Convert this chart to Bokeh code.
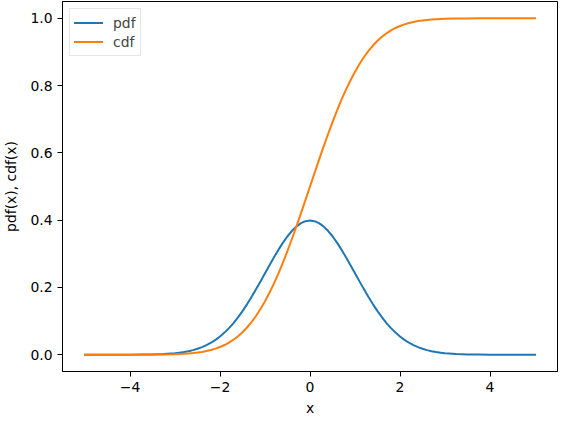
from bokeh.plotting import figure
from bokeh.models import ColumnDataSource, Range1d, FixedTicker, Legend, LegendItem
from bokeh.embed import file_html
from bokeh.resources import INLINE

# values
x_vals = [-5.0, -4.75, -4.5, -4.25, -4.0, -3.75, -3.5, -3.25,
          -3.0, -2.9, -2.8, -2.7, -2.6, -2.5, -2.4, -2.3, -2.2, -2.1,
          -2.0, -1.9, -1.8, -1.7, -1.6, -1.5, -1.4, -1.3, -1.2, -1.1,
          -1.0, -0.9, -0.8, -0.7, -0.6, -0.5, -0.4, -0.3, -0.2, -0.1,
          0.0,
          0.1, 0.2, 0.3, 0.4, 0.5, 0.6, 0.7, 0.8, 0.9, 1.0,
          1.1, 1.2, 1.3, 1.4, 1.5, 1.6, 1.7, 1.8, 1.9, 2.0,
          2.1, 2.2, 2.3, 2.4, 2.5, 2.6, 2.7, 2.8, 2.9, 3.0,
          3.25, 3.5, 3.75, 4.0, 4.25, 4.5, 4.75, 5.0]
pdf_vals = [0.0000, 0.0000, 0.0000, 0.0000, 0.0001, 0.0004, 0.0009, 0.0020,
            0.0044, 0.0060, 0.0079, 0.0104, 0.0136, 0.0175, 0.0224, 0.0283, 0.0355, 0.0440,
            0.0540, 0.0656, 0.0790, 0.0940, 0.1109, 0.1295, 0.1497, 0.1714, 0.1942, 0.2179,
            0.2420, 0.2661, 0.2897, 0.3123, 0.3332, 0.3521, 0.3683, 0.3814, 0.3910, 0.3970,
            0.3989,
            0.3970, 0.3910, 0.3814, 0.3683, 0.3521, 0.3332, 0.3123, 0.2897, 0.2661, 0.2420,
            0.2179, 0.1942, 0.1714, 0.1497, 0.1295, 0.1109, 0.0940, 0.0790, 0.0656, 0.0540,
            0.0440, 0.0355, 0.0283, 0.0224, 0.0175, 0.0136, 0.0104, 0.0079, 0.0060, 0.0044,
            0.0020, 0.0009, 0.0004, 0.0001, 0.0000, 0.0000, 0.0000, 0.0000]
cdf_vals = [0.0000, 0.0000, 0.0000, 0.0000, 0.0000, 0.0001, 0.0002, 0.0006,
            0.0013, 0.0019, 0.0026, 0.0035, 0.0047, 0.0062, 0.0082, 0.0107, 0.0139, 0.0179,
            0.0228, 0.0287, 0.0359, 0.0446, 0.0548, 0.0668, 0.0808, 0.0968, 0.1151, 0.1357,
            0.1587, 0.1841, 0.2119, 0.2420, 0.2743, 0.3085, 0.3446, 0.3821, 0.4207, 0.4602,
            0.5000,
            0.5398, 0.5793, 0.6179, 0.6554, 0.6915, 0.7257, 0.7580, 0.7881, 0.8159, 0.8413,
            0.8643, 0.8849, 0.9032, 0.9192, 0.9332, 0.9452, 0.9554, 0.9641, 0.9713, 0.9772,
            0.9821, 0.9861, 0.9893, 0.9918, 0.9938, 0.9953, 0.9965, 0.9974, 0.9981, 0.9987,
            0.9994, 0.9998, 0.9999, 1.0000, 1.0000, 1.0000, 1.0000, 1.0000]
x_ticks = [-4, -2, 0, 2, 4]
x_tick_labels = ["\u22124", "\u22122", "0", "2", "4"]
y_ticks = [0.0, 0.2, 0.4, 0.6, 0.8, 1.0]
y_tick_labels = ["0.0", "0.2", "0.4", "0.6", "0.8", "1.0"]
series_names = ["pdf", "cdf"]
x_label = "x"
y_label = "pdf(x), cdf(x)"

FONT = "DejaVu Sans"
FS = "13.9px"

src = ColumnDataSource(dict(x=x_vals, pdf=pdf_vals, cdf=cdf_vals))

p = figure(frame_width=495, frame_height=370, output_backend="svg", toolbar_location=None,
           x_range=Range1d(-5.5, 5.5), y_range=Range1d(-0.05, 1.05),
           min_border_left=53, min_border_top=1, min_border_right=2, min_border_bottom=45)

r1 = p.line("x", "pdf", source=src, line_color="#1f77b4", line_width=2,
            line_join="round", line_cap="square")
r2 = p.line("x", "cdf", source=src, line_color="#ff7f0e", line_width=2,
            line_join="round", line_cap="square")

p.xgrid.visible = False
p.ygrid.visible = False
p.outline_line_color = "black"
p.outline_line_width = 1
p.background_fill_color = "white"
p.border_fill_color = "white"

p.xaxis.ticker = FixedTicker(ticks=x_ticks)
p.xaxis.major_label_overrides = {t: l for t, l in zip(x_ticks, x_tick_labels)}
p.yaxis.ticker = FixedTicker(ticks=y_ticks)
p.yaxis.major_label_overrides = {t: l for t, l in zip(y_ticks, y_tick_labels)}
p.xaxis.axis_label = x_label
p.yaxis.axis_label = y_label

for ax in (p.xaxis, p.yaxis):
    ax.major_tick_out = 5
    ax.major_tick_in = 0
    ax.minor_tick_out = 0
    ax.minor_tick_in = 0
    ax.major_tick_line_color = "black"
    ax.axis_line_color = "black"
    ax.major_label_text_font = FONT
    ax.major_label_text_font_size = FS
    ax.major_label_text_color = "black"
    ax.axis_label_text_font = FONT
    ax.axis_label_text_font_size = FS
    ax.axis_label_text_font_style = "normal"
    ax.axis_label_text_color = "black"
    ax.major_label_standoff = 5
p.xaxis.axis_label_standoff = 5
p.yaxis.axis_label_standoff = 8

legend = Legend(items=[LegendItem(label=series_names[0], renderers=[r1]),
                       LegendItem(label=series_names[1], renderers=[r2])],
                location="top_left")
legend.margin = 7
legend.padding = 4
legend.spacing = 0
legend.glyph_width = 29
legend.glyph_height = 19
legend.label_height = 19
legend.label_standoff = 10
legend.label_text_font = FONT
legend.label_text_font_size = FS
legend.border_line_color = "#cccccc"
legend.border_line_width = 1
legend.background_fill_alpha = 0.8
p.add_layout(legend)

open("out.html", "w").write(file_html(p, INLINE))
